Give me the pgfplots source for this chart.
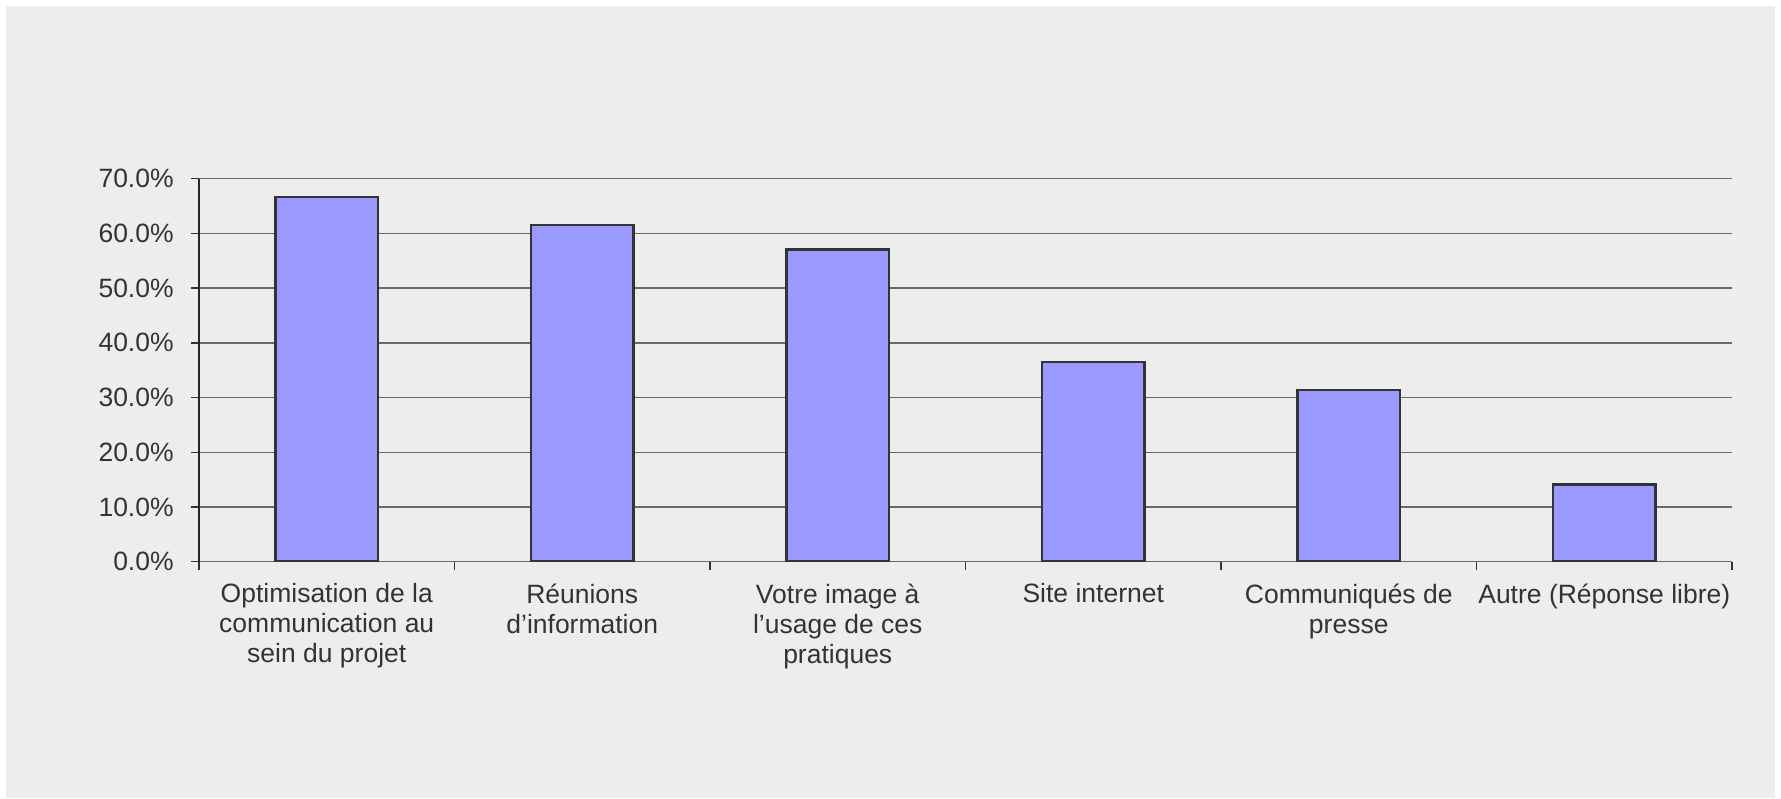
\documentclass[border=0pt]{standalone}
\usepackage{fontspec}
\setmainfont{Liberation Sans}
\usepackage{pgfplots}
\pgfplotsset{compat=1.18}
\definecolor{bg}{HTML}{EDEDED}
\definecolor{barfill}{HTML}{9999FF}
\definecolor{baredge}{HTML}{333333}
\definecolor{txt}{HTML}{333333}
\definecolor{gridc}{HTML}{6A6A6A}

\begin{document}
\begin{tikzpicture}
\useasboundingbox (0,0) rectangle (534.3pt,239.4pt);
\fill[white] (0,0) rectangle (534.3pt,239.4pt);
\fill[bg] (1.8pt,0) rectangle (532.5pt,237.6pt);
\begin{axis}[
    at={(59.7pt,70.89pt)}, anchor=south west,
    scale only axis,
    width=459.9pt, height=114.9pt,
    xmin=-0.5, xmax=5.5,
    ymin=0, ymax=70,
    ytick={0,10,...,70},
    xtick={0,...,5},
    xticklabels={
        {Optimisation de la\\communication au\\sein du projet},
        {Réunions\\d’information},
        {Votre image à\\l’usage de ces\\pratiques},
        {Site internet},
        {Communiqués de\\presse},
        {Autre (Réponse libre)}},
    minor xtick={-0.5,0.5,...,5.5},
    major x tick style={draw=none},
    axis x line*=bottom, axis y line*=left,
    axis line style={-},
    x axis line style={draw=gridc, line width=0.4pt},
    y axis line style={draw=black!85, line width=0.4pt},
    tick align=outside,
    major tick length=2.4pt, minor tick length=2.4pt,
    tick style={draw=black!80, line width=0.4pt},
    ymajorgrids,
    major grid style={draw=gridc, line width=0.4pt},
    yticklabel={\pgfmathprintnumber[fixed,fixed zerofill,precision=1]{\tick}\%},
    /pgf/number format/assume math mode=true,
    tick label style={font=\fontsize{7.95}{9}\selectfont, text=txt},
    yticklabel style={inner sep=0pt, xshift=-5pt},
    xticklabel style={align=center, inner sep=0pt, yshift=-4pt},
]
\addplot[ybar, bar width=30.8pt, fill=barfill, draw=baredge, line width=0.75pt]
    coordinates {(0,66.7) (1,61.5) (2,57.1) (3,36.5) (4,31.4) (5,14.1)};
\end{axis}
\end{tikzpicture}
\end{document}
